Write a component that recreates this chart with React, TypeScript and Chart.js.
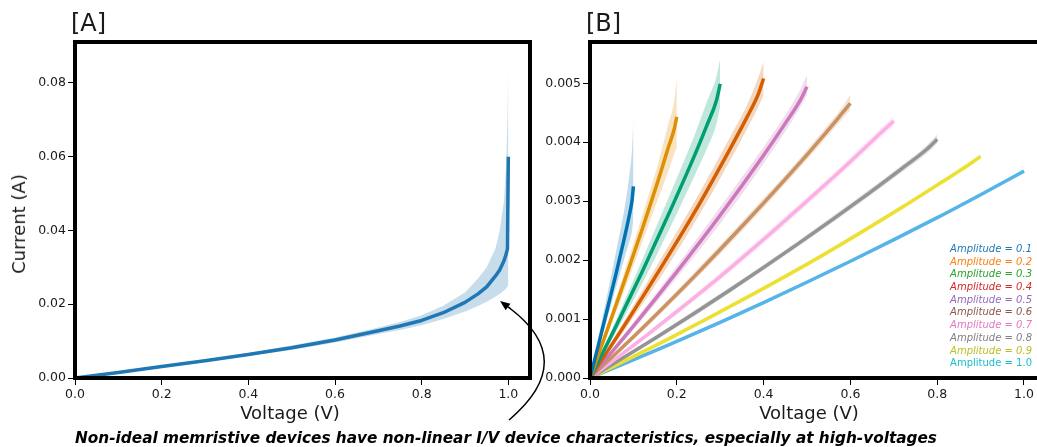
import React, { useEffect, useRef } from "react";
import { Chart, registerables } from "chart.js";
Chart.register(...registerables);

const FONT = '"DejaVu Sans", sans-serif';
const TEXT_COLOR = "#1a1a1a";

// ---- tick labels ----
const X_TICKS = [0, 0.2, 0.4, 0.6, 0.8, 1.0];
const A_Y_TICKS = [0, 0.02, 0.04, 0.06, 0.08];
const B_Y_TICKS = [0, 0.001, 0.002, 0.003, 0.004, 0.005];

// ---- panel A: mean I/V with spread ----
const A_V = [0, 0.1, 0.2, 0.3, 0.4, 0.5, 0.6, 0.7, 0.75, 0.8, 0.85, 0.9, 0.93, 0.95, 0.97, 0.98, 0.99, 0.995, 0.998, 1.0];
const A_MEAN = [0, 0.0015, 0.0031, 0.0047, 0.0064, 0.0082, 0.0103, 0.0128, 0.0141, 0.0156, 0.0177, 0.0205, 0.0228, 0.0247, 0.0276, 0.0293, 0.0318, 0.0336, 0.035, 0.06];
const A_UPPER = [0, 0.0016, 0.0033, 0.005, 0.0068, 0.0088, 0.011, 0.0137, 0.0152, 0.017, 0.0196, 0.0232, 0.027, 0.03, 0.035, 0.04, 0.048, 0.058, 0.07, 0.0866];
const A_LOWER = [0, 0.0014, 0.0029, 0.0044, 0.006, 0.0076, 0.0096, 0.0119, 0.013, 0.0143, 0.016, 0.018, 0.0195, 0.0207, 0.022, 0.0228, 0.0237, 0.0243, 0.0248, 0.025];
const A_COLOR = "#1f77b4";

// ---- panel B: per-amplitude sweeps ----
const AMPLITUDES = [0.1, 0.2, 0.3, 0.4, 0.5, 0.6, 0.7, 0.8, 0.9, 1.0];
// sample positions, as a fraction of each sweep's amplitude
const B_FRACTIONS = [0, 0.2, 0.4, 0.6, 0.8, 0.9, 0.97, 1.0];
const B_MEAN = [
  [0, 0.00058, 0.00117, 0.00177, 0.0024, 0.00274, 0.00302, 0.00325],
  [0, 0.00082, 0.00166, 0.00252, 0.00342, 0.0039, 0.00422, 0.00443],
  [0, 0.00088, 0.0018, 0.00276, 0.00376, 0.0043, 0.0047, 0.00499],
  [0, 0.0009, 0.00183, 0.0028, 0.00385, 0.0044, 0.00482, 0.00508],
  [0, 0.00088, 0.0018, 0.00276, 0.00378, 0.00432, 0.00472, 0.00494],
  [0, 0.00084, 0.00172, 0.00265, 0.00362, 0.00413, 0.0045, 0.00466],
  [0, 0.00078, 0.0016, 0.00248, 0.0034, 0.00388, 0.00422, 0.00436],
  [0, 0.00072, 0.00148, 0.00228, 0.00312, 0.00356, 0.00388, 0.00405],
  [0, 0.00066, 0.00136, 0.0021, 0.0029, 0.00332, 0.00362, 0.00376],
  [0, 0.00062, 0.00128, 0.00198, 0.00272, 0.00311, 0.00339, 0.00351],
];
const B_UPPER = [
  [0, 0.00071, 0.00142, 0.00214, 0.0029, 0.0034, 0.0039, 0.0044],
  [0, 0.0009, 0.00182, 0.00275, 0.00372, 0.0043, 0.0047, 0.0051],
  [0, 0.00098, 0.002, 0.00304, 0.0041, 0.0047, 0.0051, 0.00542],
  [0, 0.00098, 0.00198, 0.00298, 0.00405, 0.0046, 0.0051, 0.00537],
  [0, 0.00094, 0.0019, 0.0029, 0.00392, 0.00446, 0.0049, 0.00514],
  [0, 0.00089, 0.00179, 0.00273, 0.0037, 0.00422, 0.0046, 0.00481],
  [0, 0.00082, 0.00166, 0.00255, 0.00347, 0.00396, 0.0043, 0.00445],
  [0, 0.00076, 0.00153, 0.00233, 0.00318, 0.00362, 0.00395, 0.00413],
  [0, 0.00069, 0.0014, 0.00214, 0.00294, 0.00336, 0.00367, 0.0038],
  [0, 0.00064, 0.0013, 0.002, 0.00274, 0.00313, 0.00341, 0.00353],
];
const B_LOWER = [
  [0, 0.00051, 0.00102, 0.00154, 0.00205, 0.0023, 0.0025, 0.0027],
  [0, 0.00074, 0.0015, 0.0023, 0.0031, 0.0035, 0.0038, 0.0039],
  [0, 0.00078, 0.0016, 0.00248, 0.00342, 0.0039, 0.0043, 0.0046],
  [0, 0.00082, 0.00168, 0.00262, 0.00365, 0.0042, 0.0046, 0.0048],
  [0, 0.00082, 0.0017, 0.00262, 0.00364, 0.00418, 0.0046, 0.0048],
  [0, 0.00079, 0.00165, 0.00257, 0.00354, 0.00404, 0.0044, 0.00455],
  [0, 0.00074, 0.00154, 0.00241, 0.00333, 0.0038, 0.00414, 0.00428],
  [0, 0.00068, 0.00143, 0.00223, 0.00306, 0.0035, 0.00381, 0.00398],
  [0, 0.00063, 0.00132, 0.00206, 0.00286, 0.00328, 0.00357, 0.00372],
  [0, 0.0006, 0.00126, 0.00196, 0.0027, 0.00309, 0.00337, 0.00349],
];
const B_LINE_COLORS = ["#0173b2", "#de8f05", "#029e73", "#d55e00", "#cc78bc", "#ca9161", "#fbafe4", "#949494", "#ece133", "#56b4e9"];
const LEGEND_COLORS = ["#1f77b4", "#ff7f0e", "#2ca02c", "#d62728", "#9467bd", "#8c564b", "#e377c2", "#7f7f7f", "#bcbd22", "#17becf"];
const LEGEND_LABELS = AMPLITUDES.map((a) => `Amplitude = ${a.toFixed(1)}`);

const ANNOTATION = "Non-ideal memristive devices have non-linear I/V device characteristics, especially at high-voltages";

const framePlugin = {
  id: "frame",
  afterDraw(chart: any) {
    const { ctx, chartArea } = chart;
    const { left, top, right, bottom } = chartArea;
    ctx.save();
    ctx.strokeStyle = "#000";
    ctx.lineWidth = 4;
    ctx.strokeRect(left, top, right - left, bottom - top);
    ctx.restore();
  },
};

function makeOptions(yMax: number, yTicks: number[], yDigits: number, yWidth: number, padRight: number) {
  const tickFont = { family: FONT, size: 12.5 };
  return {
    responsive: false,
    maintainAspectRatio: false,
    animation: false as const,
    events: [] as any[],
    layout: { padding: { top: 42, right: padRight, left: 0, bottom: 0 } },
    plugins: {
      legend: { display: false },
      tooltip: { enabled: false },
      filler: { drawTime: "beforeDatasetsDraw" as const },
    },
    elements: { point: { radius: 0 } },
    scales: {
      x: {
        type: "linear" as const,
        min: 0,
        max: 1.05,
        afterBuildTicks: (s: any) => {
          s.ticks = X_TICKS.map((v) => ({ value: v }));
        },
        afterFit: (s: any) => {
          s.height = 69;
        },
        ticks: {
          autoSkip: false,
          maxRotation: 0,
          padding: 2,
          color: TEXT_COLOR,
          font: tickFont,
          callback: (v: any) => Number(v).toFixed(1),
        },
        grid: { drawOnChartArea: false, drawTicks: true, tickLength: 7, tickColor: "#000", tickWidth: 1 },
        border: { display: false },
      },
      y: {
        type: "linear" as const,
        min: 0,
        max: yMax,
        afterBuildTicks: (s: any) => {
          s.ticks = yTicks.map((v) => ({ value: v }));
        },
        afterFit: (s: any) => {
          s.width = yWidth;
        },
        ticks: {
          autoSkip: false,
          padding: 2,
          color: TEXT_COLOR,
          font: tickFont,
          callback: (v: any) => Number(v).toFixed(yDigits),
        },
        grid: { drawOnChartArea: false, drawTicks: true, tickLength: 7, tickColor: "#000", tickWidth: 1 },
        border: { display: false },
      },
    },
  };
}

function bandSet(xs: number[], mean: number[], upper: number[], lower: number[], line: string, band: string, width: number, smooth: boolean) {
  const pts = (ys: number[]) => xs.map((x, i) => ({ x, y: ys[i] }));
  const interp = smooth ? { cubicInterpolationMode: "monotone" as const } : { tension: 0 };
  return [
    {
      data: pts(mean),
      borderColor: line,
      borderWidth: width,
      pointRadius: 0,
      fill: false,
      borderJoinStyle: "round" as const,
      ...interp,
    },
    {
      data: pts(upper),
      borderColor: "rgba(0,0,0,0)",
      borderWidth: 1,
      backgroundColor: band,
      pointRadius: 0,
      fill: "+1",
      ...interp,
    },
    {
      data: pts(lower),
      borderColor: "rgba(0,0,0,0)",
      borderWidth: 1,
      pointRadius: 0,
      fill: false,
      ...interp,
    },
  ];
}

export default function App() {
  const refA = useRef<HTMLCanvasElement>(null);
  const refB = useRef<HTMLCanvasElement>(null);

  useEffect(() => {
    const chartA = new Chart(refA.current as HTMLCanvasElement, {
      type: "line",
      data: { datasets: bandSet(A_V, A_MEAN, A_UPPER, A_LOWER, A_COLOR, A_COLOR + "40", 3.5, false) as any },
      options: makeOptions(0.0911, A_Y_TICKS, 2, 75, 30) as any,
      plugins: [framePlugin],
    });
    const bSets: any[] = [];
    AMPLITUDES.forEach((amp, k) => {
      const xs = B_FRACTIONS.map((f) => f * amp);
      bSets.push(...bandSet(xs, B_MEAN[k], B_UPPER[k], B_LOWER[k], B_LINE_COLORS[k], B_LINE_COLORS[k] + "40", 3.5, true));
    });
    const chartB = new Chart(refB.current as HTMLCanvasElement, {
      type: "line",
      data: { datasets: bSets },
      options: makeOptions(0.0057, B_Y_TICKS, 3, 50, 14.3) as any,
      plugins: [framePlugin],
    });
    return () => {
      chartA.destroy();
      chartB.destroy();
    };
  }, []);

  // arrow annotation geometry
  const p0 = { x: 509, y: 420 };
  const c = { x: 580, y: 360 };
  const p2 = { x: 500, y: 301 };
  const dx = p2.x - c.x;
  const dy = p2.y - c.y;
  const len = Math.hypot(dx, dy);
  const ux = dx / len;
  const uy = dy / len;
  const headL = 10;
  const headW = 4;
  const bx = p2.x - headL * ux;
  const by = p2.y - headL * uy;
  const head = `${p2.x},${p2.y} ${bx - headW * uy},${by + headW * ux} ${bx + headW * uy},${by - headW * ux}`;

  const center = (x: number, y: number, size: number, extra: any = {}) => ({
    position: "absolute" as const,
    left: x,
    top: y,
    transform: "translate(-50%, -50%)",
    fontFamily: FONT,
    fontSize: size,
    lineHeight: 1,
    whiteSpace: "nowrap" as const,
    color: TEXT_COLOR,
    ...extra,
  });

  return (
    <div
      style={{
        position: "fixed",
        left: 0,
        top: 0,
        width: 1037,
        height: 447,
        overflow: "hidden",
        background: "#fff",
      }}
    >
      <canvas ref={refA} width={560} height={447} style={{ position: "absolute", left: 0, top: 0, width: 560, height: 447 }} />
      <canvas ref={refB} width={520} height={447} style={{ position: "absolute", left: 540, top: 0, width: 520, height: 447 }} />

      <div style={{ position: "absolute", left: 71, top: 11, fontFamily: FONT, fontSize: 24, lineHeight: 1, color: TEXT_COLOR }}>[A]</div>
      <div style={{ position: "absolute", left: 586, top: 11, fontFamily: FONT, fontSize: 24, lineHeight: 1, color: TEXT_COLOR }}>[B]</div>

      <div style={center(290, 413, 18)}>Voltage (V)</div>
      <div style={center(809, 413, 18)}>Voltage (V)</div>
      <div style={center(18.5, 224, 18, { transform: "translate(-50%, -50%) rotate(-90deg)" })}>Current (A)</div>

      <div style={{ position: "absolute", right: 5, top: 243, fontFamily: FONT, fontSize: 10, textAlign: "right" }}>
        {LEGEND_LABELS.map((t, i) => (
          <div
            key={t}
            style={{
              height: 12.7,
              lineHeight: "12.7px",
              color: LEGEND_COLORS[i],
              fontStyle: i === LEGEND_LABELS.length - 1 ? "normal" : "italic",
              whiteSpace: "nowrap",
            }}
          >
            {t}
          </div>
        ))}
      </div>

      <div style={center(506, 438.7, 15.3, { fontWeight: "bold", fontStyle: "italic", color: "#000" })}>{ANNOTATION}</div>

      <svg width={1037} height={447} style={{ position: "absolute", left: 0, top: 0, pointerEvents: "none" }}>
        <path d={`M ${p0.x} ${p0.y} Q ${c.x} ${c.y} ${bx} ${by}`} fill="none" stroke="#000" strokeWidth={1.5} />
        <polygon points={head} fill="#000" />
      </svg>
    </div>
  );
}
